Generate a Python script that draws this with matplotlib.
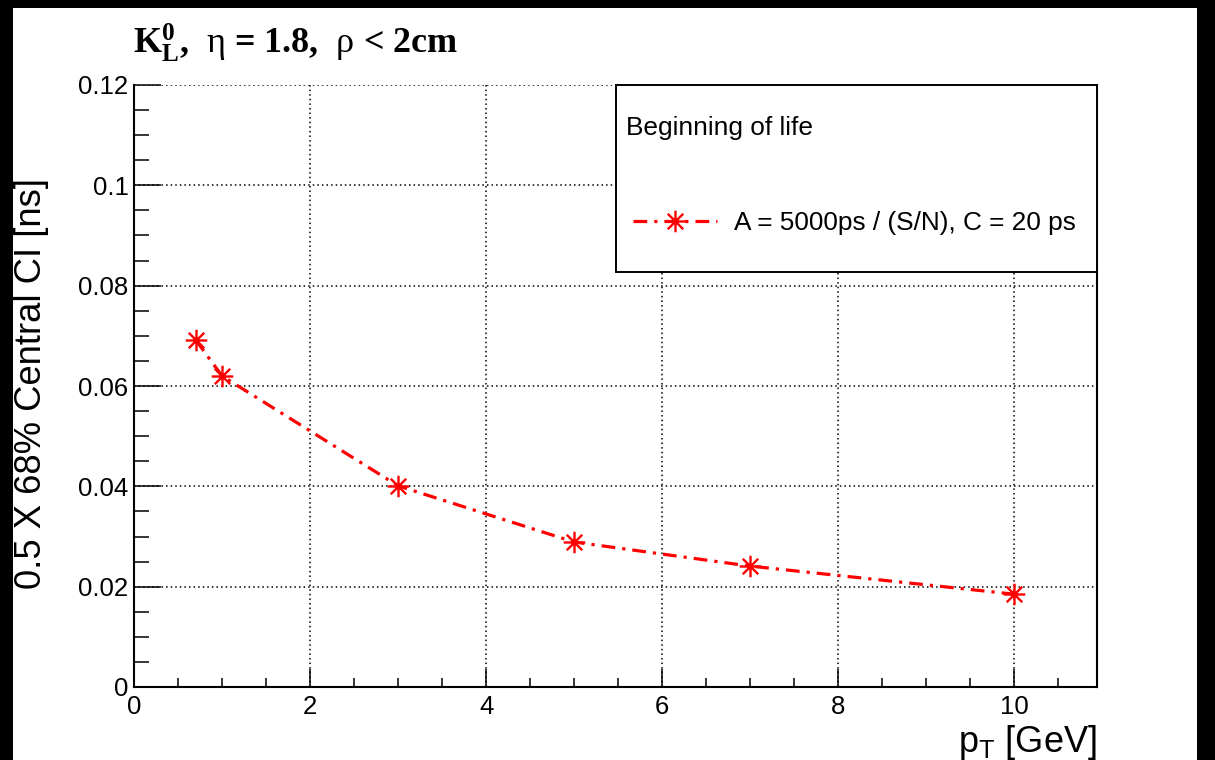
import numpy as np
import matplotlib
matplotlib.use("Agg")
import matplotlib.pyplot as plt
from matplotlib.path import Path
from matplotlib.patches import Rectangle

# data
pt = [0.7, 1.0, 3.0, 5.0, 7.0, 10.0]
sigma = [0.0692, 0.0620, 0.0401, 0.0289, 0.0241, 0.0185]
xticks = [0, 2, 4, 6, 8, 10]
xticklabels = ["0", "2", "4", "6", "8", "10"]
yticks = [0, 0.02, 0.04, 0.06, 0.08, 0.10, 0.12]
yticklabels = ["0", "0.02", "0.04", "0.06", "0.08", "0.1", "0.12"]
series_label = "A = 5000ps / (S/N), C = 20 ps"
header = "Beginning of life"

plt.rcParams['font.family'] = ['Liberation Sans', 'DejaVu Sans']
plt.rcParams['mathtext.fontset'] = 'custom'
plt.rcParams['mathtext.bf'] = 'Liberation Serif:bold'
plt.rcParams['mathtext.rm'] = 'Liberation Serif'
plt.rcParams['mathtext.sf'] = 'Liberation Sans'

W, H = 1215, 760
fig = plt.figure(figsize=(W / 100, H / 100), dpi=100, facecolor='black')
# white pad area inside the black frame
fig.add_artist(Rectangle((13 / W, 0), (1197 - 13) / W, (H - 7.5) / H,
                         transform=fig.transFigure, facecolor='white',
                         edgecolor='none', zorder=0))

x0, x1 = 134, 1097
ytop, ybot = 85, 687
ax = fig.add_axes([x0 / W, (H - ybot) / H, (x1 - x0) / W, (ybot - ytop) / H])
ax.set_facecolor('white')

# ROOT style asterisk marker
star = Path([(-1, 0), (1, 0), (0, -1), (0, 1), (-0.72, -0.72), (0.72, 0.72),
             (-0.72, 0.72), (0.72, -0.72)],
            [Path.MOVETO, Path.LINETO] * 4)

ln, = ax.plot(pt, sigma, color='red', lw=2.3, marker=star, ms=15.5,
              mec='red', mew=1.7, label=series_label, zorder=4)
ln.set_dashes((4.3, 2.2, 1, 2.2))

ax.set_xlim(0, 10.94)
ax.set_ylim(0, 0.12)
ax.set_xticks(xticks)
ax.set_xticklabels(xticklabels)
ax.set_yticks(yticks)
ax.set_yticklabels(yticklabels)
ax.set_xticks(np.arange(0.5, 10.94, 0.5), minor=True)
ax.set_yticks(np.arange(0.005, 0.12, 0.005), minor=True)

ax.tick_params(axis='both', which='both', direction='in', labelsize=18.5,
               width=1.1, color='black')
ax.tick_params(axis='x', which='major', length=13, pad=6)
ax.tick_params(axis='x', which='minor', length=6.5)
ax.tick_params(axis='y', which='major', length=19.5, pad=4)
ax.tick_params(axis='y', which='minor', length=10.8)

ax.grid(True, which='major', color='black', linestyle=(0, (1, 2)), lw=1.1)
for s in ['left', 'bottom', 'right']:
    ax.spines[s].set_linewidth(1.5)
ax.spines['top'].set_visible(False)

ax.set_ylabel("0.5 X 68% Central CI [ns]", fontsize=26.2, ha='right', va='center')
ax.yaxis.set_label_coords((32 - x0) / (x1 - x0), (ybot - 178) / (ybot - ytop))
ax.set_xlabel(r"p$_{\mathsf{T}}$ [GeV]", fontsize=26, ha='right', va='baseline')
ax.xaxis.set_label_coords(1.0, (ybot - 752) / (ybot - ytop))

fig.text(133 / W, (H - 53) / H,
         r"$\mathbf{K_{L}^{0}}$,  $\mathrm{η}$ = 1.8,  $\mathrm{ρ}$ < 2cm",
         fontsize=26, family='Liberation Serif', weight='bold', color='black',
         ha='left', va='baseline')

# legend box
bx0 = (616 - x0) / (x1 - x0)
by0 = (ybot - 272) / (ybot - ytop)
ax.add_patch(Rectangle((bx0, by0), 1 - bx0, 1 - by0, transform=ax.transAxes,
                       facecolor='white', edgecolor='black', lw=1.4,
                       zorder=5, clip_on=False))
ax.text((626 - x0) / (x1 - x0), (ybot - 128) / (ybot - ytop), header,
        transform=ax.transAxes, fontsize=18.9, ha='left', va='center', zorder=6)
leg = ax.legend(loc='center left',
                bbox_to_anchor=((633 - x0) / (x1 - x0), (ybot - 223) / (ybot - ytop)),
                frameon=False, fontsize=18.9, borderpad=0, borderaxespad=0,
                handlelength=3.2, handletextpad=0.65, numpoints=1)
leg.set_zorder(6)

fig.savefig("out.png", dpi=100, facecolor='black')
